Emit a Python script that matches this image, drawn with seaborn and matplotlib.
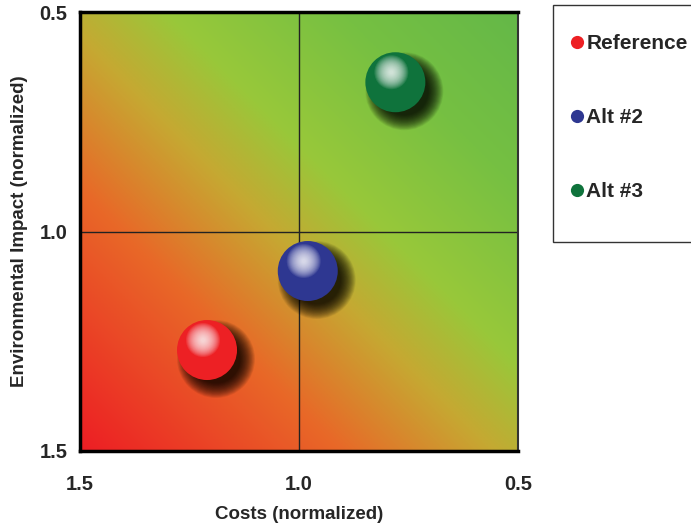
import numpy as np
import pandas as pd
import matplotlib
matplotlib.use("Agg")
import matplotlib.pyplot as plt
import matplotlib.transforms as mtransforms
from matplotlib.colors import LinearSegmentedColormap
from matplotlib.lines import Line2D
from matplotlib.patches import Rectangle
import seaborn as sns


# values
options = ["Reference", "Alt #2", "Alt #3"]
costs = [1.21, 0.98, 0.78]
impact = [1.27, 1.09, 0.66]
ball_colors = ["#ED2024", "#2E3791", "#0F733C"]
tick_values = [0.5, 1.0, 1.5]
tick_labels = ["0.5", "1.0", "1.5"]

sns.set_style("white")
plt.rcParams["font.family"] = ["Liberation Sans", "DejaVu Sans"]
plt.rcParams["font.weight"] = "bold"

df = pd.DataFrame({"option": options, "costs": costs, "impact": impact})

fig = plt.figure(figsize=(6.91, 5.26), dpi=100)
ax = fig.add_axes([80 / 691, 1 - 451 / 526, 438 / 691, 439 / 526])

# background gradient red (bottom-left) -> green (top-right)
grad_cmap = LinearSegmentedColormap.from_list("rg", [
    (0.00, (237 / 255, 30 / 255, 36 / 255)),
    (0.30, (232 / 255, 105 / 255, 40 / 255)),
    (0.47, (198 / 255, 168 / 255, 50 / 255)),
    (0.60, (152 / 255, 200 / 255, 58 / 255)),
    (0.80, (118 / 255, 192 / 255, 66 / 255)),
    (1.00, (100 / 255, 184 / 255, 72 / 255)),
])
u = np.linspace(0, 1, 300)
uu, vv = np.meshgrid(u, u[::-1])
ax.imshow((uu + vv) / 2, cmap=grad_cmap, extent=[1.5, 0.5, 1.5, 0.5],
          origin="upper", aspect="auto", zorder=0, interpolation="bilinear")

ax.axvline(1.0, color="#222222", lw=1, zorder=1)
ax.axhline(1.0, color="#222222", lw=1, zorder=1)


def s_of(r_px):
    return (2 * r_px * 72 / 100) ** 2


# soft drop shadows, lower right
shadow_tr = mtransforms.offset_copy(ax.transData, fig=fig, x=9, y=-9, units="dots")
for r in np.linspace(39, 24, 26):
    ax.scatter(df["costs"], df["impact"], s=s_of(r), color="black", alpha=0.055,
               edgecolor="none", transform=shadow_tr, zorder=2)

sns.scatterplot(data=df, x="costs", y="impact", hue="option", palette=ball_colors,
                s=s_of(30), edgecolor="none", legend=False, ax=ax, zorder=3)

# specular highlight
hl_tr = mtransforms.offset_copy(ax.transData, fig=fig, x=-4, y=10, units="dots")
for r in np.linspace(17, 2, 16):
    ax.scatter(df["costs"], df["impact"], s=s_of(r), color="white", alpha=0.1,
               edgecolor="none", transform=hl_tr, zorder=4)

ax.set_xlim(1.5, 0.5)
ax.set_ylim(1.5, 0.5)
ax.set_xticks(tick_values)
ax.set_xticklabels(tick_labels)
ax.set_yticks(tick_values)
ax.set_yticklabels(tick_labels)
ax.tick_params(axis="both", length=4, width=1, color="#555555", labelsize=14.5)
ax.tick_params(axis="x", pad=13)
ax.tick_params(axis="y", pad=5)
for lab in ax.get_xticklabels() + ax.get_yticklabels():
    lab.set_fontweight("bold")

ax.set_xlabel("Costs (normalized)", fontsize=13.5, fontweight="bold", labelpad=9)
ax.set_ylabel("Environmental Impact (normalized)", fontsize=13.5, fontweight="bold", labelpad=8)

for side in ["left", "bottom", "top"]:
    ax.spines[side].set_linewidth(2.5)
    ax.spines[side].set_color("black")
ax.spines["right"].set_linewidth(1.5)
ax.spines["right"].set_color("#333333")

# legend box, running off the right edge like the original
fig.patches.append(Rectangle((553 / 691, 1 - 242 / 526), 0.3, 237 / 526,
                             transform=fig.transFigure, facecolor="white",
                             edgecolor="#333333", lw=1, zorder=0))
handles = [Line2D([0], [0], marker="o", linestyle="none", markersize=9.5,
                  markerfacecolor=c, markeredgecolor="none") for c in ball_colors]
fig.legend(handles, options, loc="upper left",
           bbox_to_anchor=(570 / 691, 1 - 34 / 526),
           frameon=False, handlelength=0.7, handletextpad=0.08,
           labelspacing=2.65, borderpad=0, borderaxespad=0,
           prop={"size": 15, "weight": "bold"})

fig.savefig("out.png", dpi=100)
